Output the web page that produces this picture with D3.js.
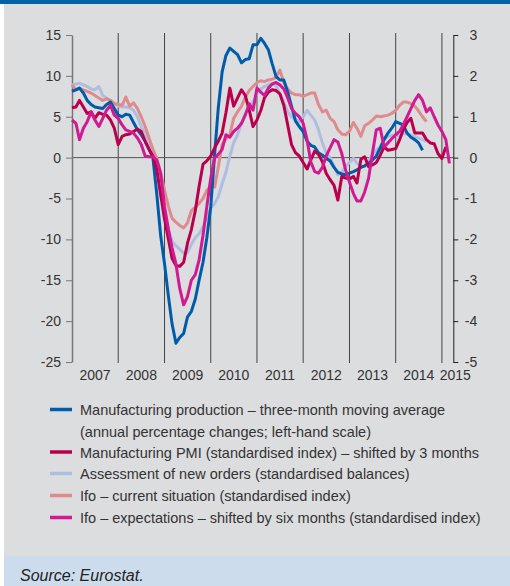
<!DOCTYPE html>
<html>
<head>
<meta charset="utf-8">
<script src="https://cdn.jsdelivr.net/npm/d3@7/dist/d3.min.js"></script>
<style>
    body { margin: 0; background: #fff; }
    svg { display: block; font-family: "Liberation Sans", Arial, sans-serif; }
    .tick text { font-size: 14px; fill: #333; }
    .legend text { font-size: 14.5px; fill: #333; }
</style>
</head>
<body>
<svg id="chart" width="510" height="586"></svg>
<script>
// monthly series, first value = Jan 2007
var startYear = 2007;

// manufacturing production, 3m moving average (% y/y, left scale)
var production = [
    8.1, 8.3, 8.5, 7.9, 7.0, 6.5, 6.2, 6.1, 6.0, 6.5,
    6.8, 6.0, 5.2, 5.0, 5.3, 5.2, 4.3, 3.4, 2.8, 2.0,
    1.0, 0.0, -4.5, -9.5, -13.0, -17.0, -20.3, -22.7, -22.0, -21.5,
    -19.5, -18.8, -17.3, -15.0, -12.8, -9.8, -6.0, 0.5, 6.0, 10.5,
    12.5, 13.4, 13.0, 12.6, 11.6, 12.0, 12.1, 13.8, 13.8, 14.6,
    14.0, 13.2, 11.5, 9.9, 9.5, 9.5, 8.0, 6.3, 4.5, 3.8,
    3.2, 2.0, 1.5, 1.3, 0.6, 0.3, -0.1, -0.4, -1.2, -1.8,
    -2.0, -2.1, -1.9, -1.7, -1.5, -1.2, -1.0, -0.7, -0.3, 0.2,
    1.2, 2.2, 3.0, 3.6, 4.4, 4.2, 4.0, 3.0, 2.5, 2.2,
    1.8, 0.9
];

// manufacturing PMI, shifted by 3 months (right scale)
var pmi = [
    1.22, 1.24, 1.40, 1.24, 1.08, 1.12, 0.96, 1.10, 1.06, 1.04,
    0.92, 0.72, 0.32, 0.52, 0.56, 0.58, 0.64, 0.70, 0.64, 0.40,
    0.20, 0.04, -0.30, -0.90, -1.50, -2.00, -2.46, -2.64, -2.66, -2.56,
    -2.10, -1.76, -1.30, -0.70, -0.16, -0.08, 0.04, 0.24, 0.40, 0.60,
    1.10, 1.70, 1.26, 1.46, 1.66, 1.52, 1.16, 0.76, 0.92, 1.16,
    1.46, 1.60, 1.66, 1.64, 1.56, 1.28, 0.80, 0.32, 0.12, 0.04,
    -0.12, -0.28, -0.06, 0.16, 0.08, -0.10, -0.38, -0.54, -0.68, -1.04,
    -0.46, -0.50, -0.52, -0.46, -0.62, -0.04, 0.02, -0.22, -0.18, -0.12,
    0.06, 0.26, 0.18, 0.20, 0.22, 0.44, 0.68, 0.86, 0.96, 0.60,
    0.60, 0.60, 0.44, 0.36, 0.34, 0.10, -0.02, 0.26
];

// assessment of new orders (right scale)
var newOrders = [
    1.78, 1.80, 1.82, 1.78, 1.74, 1.68, 1.66, 1.74, 1.52, 1.46,
    1.40, 1.34, 1.26, 1.24, 1.24, 1.22, 1.16, 1.00, 0.76, 0.56,
    0.40, 0.18, -0.24, -0.60, -1.30, -1.76, -2.04, -2.16, -2.24, -2.34,
    -2.32, -2.12, -1.96, -1.86, -1.70, -1.46, -1.24, -1.12, -0.96, -0.64,
    -0.36, 0.04, 0.36, 0.56, 0.84, 1.08, 1.24, 1.36, 1.56, 1.68,
    1.74, 1.78, 1.82, 1.76, 1.56, 1.36, 1.12, 1.00, 0.94, 0.88,
    1.00, 1.16, 1.04, 0.92, 0.68, 0.36, 0.12, 0.00, -0.22, -0.42,
    -0.36, -0.22, -0.12, -0.02, -0.14, -0.20, -0.22, -0.08, 0.06, 0.18,
    0.26, 0.44, 0.52, 0.54, 0.56, 0.52, 0.60, 0.58, 0.54, 0.52,
    0.48, 0.44, 0.40
];

// ifo current situation (right scale)
var ifoCurrent = [
    1.78, 1.66, 1.70, 1.66, 1.62, 1.58, 1.52, 1.46, 1.40, 1.44,
    1.40, 1.32, 1.30, 1.28, 1.48, 1.26, 1.34, 1.20, 1.00, 0.76,
    0.48, 0.20, -0.02, -0.36, -0.80, -1.20, -1.48, -1.58, -1.66, -1.72,
    -1.60, -1.30, -1.22, -1.12, -1.00, -0.80, -0.70, -0.72, -0.24, 0.32,
    0.46, 0.56, 0.96, 1.12, 1.26, 1.48, 1.64, 1.74, 1.84, 1.88,
    1.86, 1.90, 1.92, 1.96, 2.14, 1.84, 1.68, 1.58, 1.54, 1.54,
    1.50, 1.54, 1.58, 1.58, 1.30, 1.12, 1.16, 0.96, 0.88, 0.68,
    0.58, 0.56, 0.64, 0.86, 0.72, 0.52, 0.78, 0.84, 0.92, 1.02,
    1.00, 1.02, 1.04, 1.08, 1.16, 1.28, 1.36, 1.36, 1.32, 1.26,
    1.14, 1.00, 0.88
];

// ifo expectations, shifted by six months (right scale)
var ifoExpect = [
    0.92, 0.84, 0.44, 0.72, 0.88, 1.12, 0.92, 0.76, 0.96, 1.16,
    1.28, 1.04, 0.96, 0.80, 0.68, 0.64, 0.60, 0.48, 0.32, 0.04,
    0.02, 0.02, -0.06, -0.38, -1.20, -1.76, -2.20, -2.60, -3.20, -3.60,
    -3.40, -3.00, -2.86, -2.50, -1.90, -1.20, -0.50, 0.00, 0.08, 0.20,
    0.56, 0.50, 0.64, 0.72, 0.84, 1.04, 1.32, 1.16, 1.70, 1.60,
    1.52, 1.70, 1.80, 1.84, 1.78, 1.68, 1.46, 1.20, 1.08, 1.00,
    0.84, 0.44, -0.10, -0.34, -0.38, -0.24, 0.04, 0.24, 0.44, 0.38,
    0.10, -0.30, -0.60, -0.88, -1.06, -1.06, -0.84, -0.50, 0.10, 0.68,
    0.72, 0.26, 0.36, 0.46, 0.56, 0.64, 0.80, 1.00, 1.20, 1.40,
    1.54, 1.40, 1.12, 1.22, 1.00, 0.80, 0.64, 0.44, -0.14
];

var years = ["2007", "2008", "2009", "2010", "2011", "2012", "2013", "2014", "2015"];
var leftTicks = [15, 10, 5, 0, -5, -10, -15, -20, -25];
var rightTicks = [3, 2, 1, 0, -1, -2, -3, -4, -5];

var legendLabels = [
    ["Manufacturing production \u2013 three-month moving average",
     "(annual percentage changes; left-hand scale)"],
    ["Manufacturing PMI (standardised index) \u2013 shifted by 3 months"],
    ["Assessment of new orders (standardised balances)"],
    ["Ifo \u2013 current situation (standardised index)"],
    ["Ifo \u2013 expectations \u2013 shifted by six months (standardised index)"]
];

var svg = d3.select("#chart"),
    width = +svg.attr("width"),
    height = +svg.attr("height");

// page frame: blue top rule, grey panel, light blue source strip
svg.append("rect").attr("x", 0).attr("y", 0).attr("width", width).attr("height", height).attr("fill", "#fff");
svg.append("rect").attr("x", 4).attr("y", 0).attr("width", width - 4).attr("height", 556).attr("fill", "#dcdddf");
svg.append("rect").attr("x", 0).attr("y", 0).attr("width", width).attr("height", 4).attr("fill", "#0063a6");
svg.append("rect").attr("x", 4).attr("y", 556).attr("width", width - 4).attr("height", 30).attr("fill", "#cddcec");
svg.append("text")
    .attr("x", 20)
    .attr("y", 581)
    .style("font-size", "16px")
    .style("font-style", "italic")
    .style("fill", "#222")
    .text("Source: Eurostat.");

// plot box (window.top is read-only, hence the prefixes)
var plotTop = 35, plotBottom = 362, plotLeft = 72, plotRight = 453.3;

var x = d3.scaleTime()
    .domain([new Date(2007, 0, 1), new Date(2015, 3, 1)])
    .range([plotLeft, plotRight]);

var yLeft = d3.scaleLinear().domain([-25, 15]).range([plotBottom, plotTop]);
var yRight = d3.scaleLinear().domain([-5, 3]).range([plotBottom, plotTop]);

// plain hyphen for negatives, like the original
var plain = function (d) { return String(d); };

function monthDate(i) {
    return new Date(startYear, i, 1);
}

// year separators
svg.append("g")
    .selectAll("line")
    .data(years.slice(1))
    .enter()
    .append("line")
    .attr("x1", function (d) { return x(new Date(+d, 0, 1)); })
    .attr("x2", function (d) { return x(new Date(+d, 0, 1)); })
    .attr("y1", plotTop - 2)
    .attr("y2", plotBottom + 1)
    .attr("stroke", "#444")
    .attr("stroke-width", 1);

// zero line
svg.append("line")
    .attr("x1", plotLeft)
    .attr("x2", plotRight)
    .attr("y1", yLeft(0))
    .attr("y2", yLeft(0))
    .attr("stroke", "#555")
    .attr("stroke-width", 1);

// left axis
var gLeft = svg.append("g")
    .attr("transform", "translate(" + plotLeft + ",0)")
    .call(d3.axisLeft(yLeft).tickValues(leftTicks).tickFormat(plain).tickSize(6).tickSizeOuter(0).tickPadding(5));
gLeft.select(".domain").attr("stroke", "#777").attr("stroke-width", 1.5);
gLeft.selectAll(".tick line").attr("stroke", "#777");

// right axis, labels right-aligned
var gRight = svg.append("g")
    .attr("transform", "translate(" + plotRight + ",0)")
    .call(d3.axisRight(yRight).tickValues(rightTicks).tickFormat(plain).tickSize(5).tickSizeOuter(0));
gRight.select(".domain").attr("stroke", "#222");
gRight.selectAll(".tick line").attr("stroke", "#222");
gRight.selectAll(".tick text").attr("x", 24).attr("text-anchor", "end");

svg.selectAll("g").attr("font-family", null).attr("font-size", null);

// year labels, centred in each year
svg.append("g")
    .attr("class", "tick")
    .selectAll("text")
    .data(years)
    .enter()
    .append("text")
    .attr("x", function (d, i) {
        if (i === years.length - 1) return plotRight + 2;
        return (x(new Date(+d, 0, 1)) + x(new Date(+d + 1, 0, 1))) / 2;
    })
    .attr("y", 380)
    .attr("text-anchor", "middle")
    .text(function (d) { return d; });

// series
var series = [
    { values: newOrders, scale: yRight, color: "#afbde0" },
    { values: ifoCurrent, scale: yRight, color: "#df8a8c" },
    { values: production, scale: yLeft, color: "#005ca9" },
    { values: pmi, scale: yRight, color: "#b8004c" },
    { values: ifoExpect, scale: yRight, color: "#cf1a92" }
];

series.forEach(function (s) {
    var line = d3.line()
        .x(function (d, i) { return x(monthDate(i)); })
        .y(function (d) { return s.scale(d); });
    svg.append("path")
        .datum(s.values)
        .attr("fill", "none")
        .attr("stroke", s.color)
        .attr("stroke-width", 3)
        .attr("stroke-linejoin", "round")
        .attr("d", line);
});

// legend
var legendColors = ["#005ca9", "#b8004c", "#afbde0", "#df8a8c", "#cf1a92"];
var legendY = [409.5, 452, 473.5, 495.5, 517.5];

var legend = svg.append("g").attr("class", "legend");
legendLabels.forEach(function (lines, i) {
    legend.append("line")
        .attr("x1", 50)
        .attr("x2", 72)
        .attr("y1", legendY[i])
        .attr("y2", legendY[i])
        .attr("stroke", legendColors[i])
        .attr("stroke-width", 3.5);
    lines.forEach(function (t, j) {
        legend.append("text")
            .attr("x", 80)
            .attr("y", legendY[i] + 5.5 + j * 21.5)
            .text(t);
    });
});
</script>
</body>
</html>
